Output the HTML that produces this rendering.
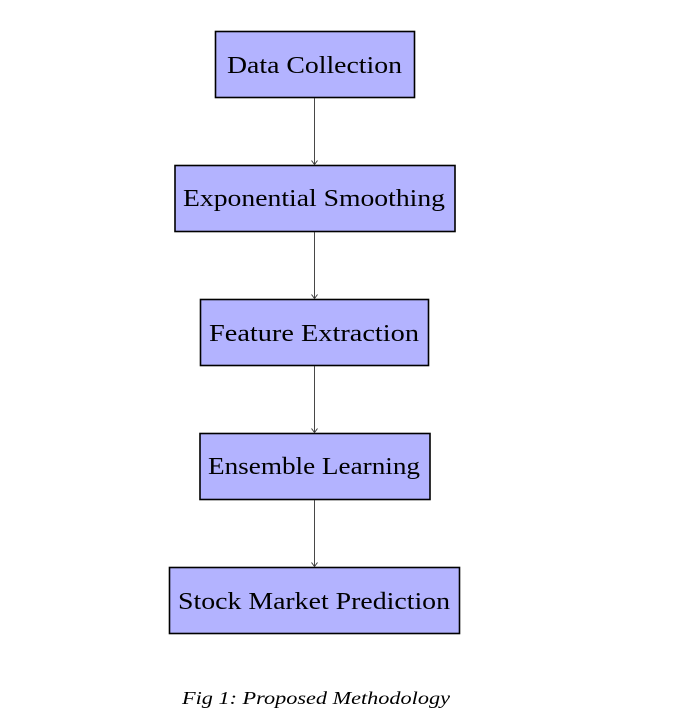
<!DOCTYPE html>
<html><head><meta charset="utf-8"><style>
html,body{margin:0;padding:0;background:#fff;width:673px;height:727px;overflow:hidden}
svg text{font-family:"Liberation Serif",serif;fill:#000}
</style></head><body>
<svg width="673" height="727" viewBox="0 0 673 727" xmlns="http://www.w3.org/2000/svg">
<g fill="#b3b3ff" stroke="#000" stroke-width="1.6">
<rect x="215.5" y="31.5" width="199" height="66"/>
<rect x="175" y="165.5" width="280" height="66"/>
<rect x="200.5" y="299.5" width="228" height="66"/>
<rect x="200" y="433.5" width="230" height="66"/>
<rect x="169.5" y="567.5" width="290" height="66"/>
</g>
<g stroke="#333" stroke-width="0.9" fill="none">
<line x1="314.5" y1="98" x2="314.5" y2="164.5"/>
<line x1="314.5" y1="232" x2="314.5" y2="298.5"/>
<line x1="314.5" y1="366" x2="314.5" y2="432.5"/>
<line x1="314.5" y1="500" x2="314.5" y2="566.5"/>
<path d="M311.5 160.5 L314.5 164.5 L317.5 160.5"/>
<path d="M311.5 294.5 L314.5 298.5 L317.5 294.5"/>
<path d="M311.5 428.5 L314.5 432.5 L317.5 428.5"/>
<path d="M311.5 562.5 L314.5 566.5 L317.5 562.5"/>
</g>
<g font-size="24" lengthAdjust="spacingAndGlyphs">
<text x="227" y="73" textLength="175" lengthAdjust="spacingAndGlyphs">Data Collection</text>
<text x="183" y="206" textLength="262" lengthAdjust="spacingAndGlyphs">Exponential Smoothing</text>
<text x="209" y="341" textLength="210" lengthAdjust="spacingAndGlyphs">Feature Extraction</text>
<text x="208" y="474" textLength="212" lengthAdjust="spacingAndGlyphs">Ensemble Learning</text>
<text x="178" y="609" textLength="272" lengthAdjust="spacingAndGlyphs">Stock Market Prediction</text>
</g>
<text x="182" y="704" font-size="17.5" font-style="italic" textLength="268" lengthAdjust="spacingAndGlyphs">Fig 1: Proposed Methodology</text>
</svg>
</body></html>
